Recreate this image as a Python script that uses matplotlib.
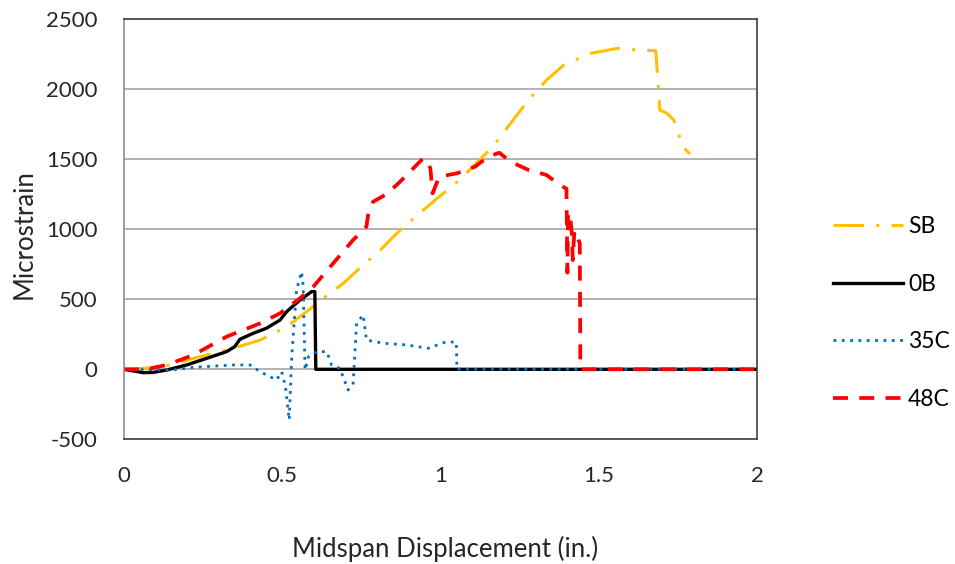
import matplotlib.pyplot as plt

plt.rcParams['font.family'] = ['Lato', 'DejaVu Sans']
plt.rcParams['axes.unicode_minus'] = False

# SB
sb_x = [0, 0.114, 0.24, 0.345, 0.43, 0.514, 0.577, 0.63, 0.693, 0.756, 0.81, 0.872,
        0.977, 1.06, 1.165, 1.278, 1.335, 1.39, 1.475, 1.56, 1.617, 1.68, 1.687,
        1.693, 1.715, 1.737, 1.75, 1.765, 1.788]
sb_y = [0, 14, 90, 150, 209, 304, 412, 507, 614, 745, 852, 995,
        1197, 1352, 1590, 1924, 2066, 2174, 2257, 2293, 2281, 2276, 2066,
        1852, 1829, 1781, 1697, 1590, 1538]

# 0B
b0_x = [0, 0.061, 0.093, 0.135, 0.198, 0.261, 0.324, 0.35, 0.366, 0.408, 0.45,
        0.493, 0.514, 0.556, 0.593, 0.603, 0.606, 2.0]
b0_y = [0, -24, -22, -5, 31, 78, 126, 162, 214, 257, 293,
        352, 412, 495, 555, 555, 0, 0]

# 35C
c35_x = [0, 0.15, 0.219, 0.345, 0.398, 0.43, 0.482, 0.498, 0.51, 0.522, 0.53,
         0.545, 0.561, 0.566, 0.572, 0.583, 0.609, 0.641, 0.656, 0.682, 0.708,
         0.724, 0.735, 0.756, 0.766, 0.819, 0.893, 0.961, 1.019, 1.05, 1.052, 2.0]
c35_y = [0, -5, 14, 31, 31, -17, -76, -17, -120, -362, 90,
         566, 697, 600, -5, 90, 126, 126, 31, 7, -148,
         -100, 328, 388, 209, 186, 174, 150, 197, 193, 0, 0]

# 48C
c48_x = [0, 0.07, 0.135, 0.219, 0.324, 0.43, 0.493, 0.556, 0.598, 0.661, 0.724,
         0.766, 0.772, 0.787, 0.834, 0.883, 0.94, 0.951, 0.968, 0.975, 0.996,
         1.052, 1.109, 1.151, 1.186, 1.221, 1.278, 1.335, 1.377, 1.398, 1.401,
         1.403, 1.41, 1.415, 1.418, 1.423, 1.43, 1.44, 1.442, 2.0]
c48_y = [0, 0, 31, 102, 233, 328, 400, 507, 590, 757, 924,
         1019, 1114, 1197, 1257, 1364, 1495, 1507, 1436, 1257, 1376,
         1400, 1447, 1519, 1547, 1483, 1424, 1388, 1316, 1290, 690,
         1120, 1080, 970, 780, 990, 960, 900, 0, 0]

fig = plt.figure(figsize=(9.55, 5.64), dpi=100)
ax = fig.add_axes([124 / 955, 1 - 439.3 / 564, (757 - 124) / 955, (439.3 - 19.3) / 564])

ax.plot(sb_x, sb_y, color='#FFC000', lw=2.2, dashes=(10, 4, 1, 4), label='SB')
ax.plot(b0_x, b0_y, color='black', lw=2.4, label='0B')
ax.plot(c35_x, c35_y, color='#0070C0', lw=2.0, dashes=(1, 2), label='35C')
ax.plot(c48_x, c48_y, color='#FF0000', lw=2.7, dashes=(4, 3), label='48C')

ax.set_xlim(0, 2)
ax.set_ylim(-500, 2500)
ax.set_xticks([0, 0.5, 1, 1.5, 2])
ax.set_xticklabels(['0', '0.5', '1', '1.5', '2'])
ax.set_yticks(range(-500, 2501, 500))
ax.yaxis.grid(True, color='#A6A6A6', lw=1.2)
ax.set_axisbelow(True)
ax.tick_params(length=0, labelsize=16, colors='#262626')
ax.tick_params(axis='x', pad=19)
ax.tick_params(axis='y', pad=19)
ax.spines['left'].set_color('#8C8C8C')
for s in ['top', 'right', 'bottom']:
    ax.spines[s].set_color('#404040')
for s in ax.spines.values():
    s.set_linewidth(1.2)

fig.text(24 / 955, 1 - 234 / 564, 'Microstrain', rotation=90, fontsize=18.5,
         ha='center', va='center', color='#262626')
fig.text(445 / 955, 1 - 549 / 564, 'Midspan Displacement (in.)', fontsize=18.5,
         ha='center', va='center', color='#262626')

fig.legend(loc='center left', bbox_to_anchor=(833 / 955, 1 - 313 / 564),
           frameon=False, fontsize=16.5, handlelength=3.05, handletextpad=0.22,
           labelspacing=1.6, borderpad=0, borderaxespad=0)

fig.savefig('out.png', dpi=100)
